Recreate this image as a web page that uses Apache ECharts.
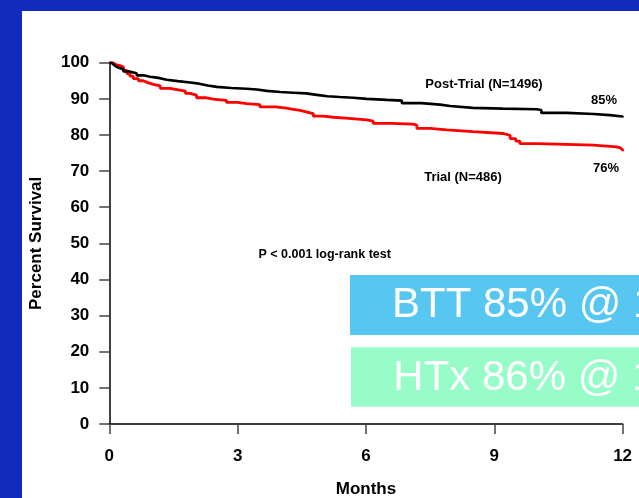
<!DOCTYPE html>
<html>
<head>
<meta charset="utf-8">
<script src="https://cdn.jsdelivr.net/npm/echarts@6/dist/echarts.min.js"></script>
<style>
  html, body { margin: 0; padding: 0; }
  body { width: 639px; height: 498px; background: #112bbd; position: relative; overflow: hidden; }
  #chart { position: absolute; left: 22px; top: 11px; width: 617px; height: 487px; background: #ffffff; }
</style>
</head>
<body>
<div id="chart"></div>
<script>
// Kaplan-Meier survival (percent) vs months
const postTrialMonths = [0, 0.05, 0.1, 0.15, 0.22, 0.33, 0.45, 0.64, 0.8, 0.95, 1.15, 1.34, 1.6, 1.89, 2.1, 2.3, 2.51, 2.85, 3.21, 3.45, 3.68, 4.0, 4.3, 4.6, 4.85, 5.1, 5.39, 5.7, 6.02, 6.49, 6.84, 7.3, 7.73, 7.97, 8.5, 9.2, 9.99, 10.1, 10.7, 11.32, 11.7, 12.0];
const postTrialSurvival = [100, 99.5, 99, 98.6, 98.2, 97.6, 97.1, 96.5, 96.1, 95.8, 95.3, 94.9, 94.5, 94.2, 93.7, 93.3, 93.0, 92.8, 92.6, 92.2, 91.9, 91.7, 91.5, 91.1, 90.7, 90.5, 90.3, 90.0, 89.7, 89.5, 88.8, 88.4, 88.0, 87.5, 87.3, 87.1, 86.9, 86.1, 85.8, 85.5, 85.1, 84.8];

const trialMonths = [0, 0.08, 0.15, 0.25, 0.33, 0.41, 0.48, 0.56, 0.68, 0.79, 0.9, 1.03, 1.19, 1.42, 1.65, 1.78, 1.89, 2.04, 2.25, 2.43, 2.74, 3.0, 3.21, 3.52, 3.9, 4.14, 4.3, 4.46, 4.6, 4.77, 5.0, 5.24, 5.6, 6.02, 6.17, 6.6, 7.1, 7.19, 7.5, 7.89, 8.5, 9.21, 9.37, 9.5, 9.6, 10.0, 10.69, 11.32, 11.86, 11.95, 12.0];
const trialSurvival = [100, 99.5, 99.2, 98.8, 97.9, 97.0, 96.3, 95.6, 95.0, 94.5, 94.0, 93.6, 92.9, 92.4, 92.1, 91.5, 91.0, 90.3, 89.9, 89.6, 89.0, 88.7, 88.4, 87.8, 87.4, 87.1, 86.8, 86.4, 85.9, 85.2, 84.9, 84.6, 84.2, 83.8, 83.2, 83.0, 82.7, 81.8, 81.4, 80.9, 80.4, 79.9, 79.0, 78.3, 77.6, 77.4, 77.2, 76.7, 76.4, 75.9, 75.5];

const xTicks = { min: 0, max: 12, interval: 3 };
const yTicks = { min: 0, max: 100, interval: 10 };

const seriesNames = ['Post-Trial (N=1496)', 'Trial (N=486)'];
const endLabels = ['85%', '76%'];
const pValueText = 'P < 0.001 log-rank test';
const boxTexts = ['BTT 85% @ 1', 'HTx 86% @ 1'];

const pair = (xs, ys) => xs.map((x, i) => [x, ys[i]]);

const FONT = '"Liberation Sans", Arial, Helvetica, sans-serif';
const chart = echarts.init(document.getElementById('chart'), null, { renderer: 'canvas' });

chart.setOption({
  animation: false,
  backgroundColor: '#ffffff',
  grid: { left: 87.3, right: 16.4, top: 51.7, bottom: 74, containLabel: false, outerBoundsMode: 'none' },
  xAxis: {
    type: 'value', min: xTicks.min, max: xTicks.max, interval: xTicks.interval,
    name: 'Months', nameLocation: 'middle', nameGap: 57,
    nameTextStyle: { fontFamily: FONT, fontWeight: 'bold', fontSize: 17, color: '#000' },
    axisLine: { show: true, onZero: false, lineStyle: { color: '#000', width: 1.5 } },
    axisTick: { show: true, inside: false, length: 10, lineStyle: { color: '#444', width: 1.5 } },
    axisLabel: { margin: 24, fontFamily: FONT, fontWeight: 'bold', fontSize: 17, color: '#000' },
    splitLine: { show: false }
  },
  yAxis: {
    type: 'value', min: yTicks.min, max: yTicks.max, interval: yTicks.interval,
    name: 'Percent Survival', nameLocation: 'middle', nameGap: 64, nameRotate: 90,
    nameTextStyle: { fontFamily: FONT, fontWeight: 'bold', fontSize: 17, color: '#000' },
    axisLine: { show: true, onZero: false, lineStyle: { color: '#000', width: 1.5 } },
    axisTick: { show: true, inside: false, length: 10, lineStyle: { color: '#444', width: 1.5 } },
    axisLabel: { margin: 20, fontFamily: FONT, fontWeight: 'bold', fontSize: 17, color: '#000' },
    splitLine: { show: false }
  },
  series: [
    {
      name: seriesNames[0], type: 'line', step: 'end', showSymbol: false, symbol: 'none',
      data: pair(postTrialMonths, postTrialSurvival),
      lineStyle: { color: '#000000', width: 2.6 }, z: 3
    },
    {
      name: seriesNames[1], type: 'line', step: 'end', showSymbol: false, symbol: 'none',
      data: pair(trialMonths, trialSurvival),
      lineStyle: { color: '#ff0000', width: 2.8 }, z: 2
    }
  ],
  graphic: [
    { type: 'text', x: 462, y: 73.3, style: { text: seriesNames[0], font: 'bold 13px ' + FONT, fill: '#000', align: 'center', verticalAlign: 'middle' } },
    { type: 'text', x: 582, y: 89.5, style: { text: endLabels[0], font: 'bold 13px ' + FONT, fill: '#000', align: 'center', verticalAlign: 'middle' } },
    { type: 'text', x: 441, y: 166.5, style: { text: seriesNames[1], font: 'bold 13px ' + FONT, fill: '#000', align: 'center', verticalAlign: 'middle' } },
    { type: 'text', x: 584, y: 157, style: { text: endLabels[1], font: 'bold 13px ' + FONT, fill: '#000', align: 'center', verticalAlign: 'middle' } },
    { type: 'text', x: 302.7, y: 244, style: { text: pValueText, font: 'bold 12.5px ' + FONT, fill: '#000', align: 'center', verticalAlign: 'middle' } },
    { type: 'rect', shape: { x: 328, y: 264, width: 300, height: 60 }, style: { fill: '#57c7f1' } },
    { type: 'text', x: 370, y: 294.3, style: { text: boxTexts[0], font: '42px ' + FONT, fill: '#ffffff', align: 'left', verticalAlign: 'middle' } },
    { type: 'rect', shape: { x: 329, y: 336.3, width: 300, height: 59.4 }, style: { fill: '#98fcc9' } },
    { type: 'text', x: 371.3, y: 367.7, style: { text: boxTexts[1], font: '42px ' + FONT, fill: '#ffffff', align: 'left', verticalAlign: 'middle' } }
  ]
});
</script>
</body>
</html>
